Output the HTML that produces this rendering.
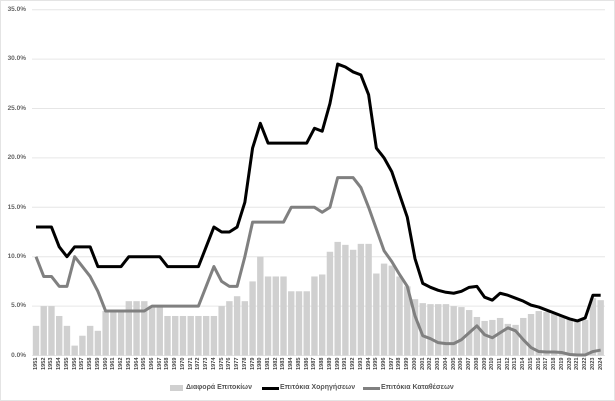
<!DOCTYPE html>
<html><head><meta charset="utf-8"><style>
html,body{margin:0;padding:0;background:#fff;}
#c{position:relative;width:615px;height:401px;overflow:hidden;background:#fff;font-family:"Liberation Sans",sans-serif;}
#frame{position:absolute;left:0;top:0;width:613px;height:399px;border:1px solid #e4e4e4;}
.yl{position:absolute;left:0;width:26px;text-align:right;font-size:6.5px;font-weight:bold;color:#666;}
#years{position:absolute;left:32.1px;top:358px;display:flex;}
#years span{width:7.735px;height:24px;display:flex;justify-content:center;}
#years span i{font-style:normal;writing-mode:vertical-rl;transform:rotate(180deg);font-size:5.6px;color:#444;font-weight:bold;text-align:right;}
.lg{position:absolute;top:384px;font-size:7px;color:#555;font-weight:bold;}
</style></head><body><div id="c">
<div id="frame"></div>
<svg id="s" width="615" height="401" style="position:absolute;left:0;top:0"></svg>
<div class="yl" style="top:6px">35.0%</div>
<div class="yl" style="top:55px">30.0%</div>
<div class="yl" style="top:105px">25.0%</div>
<div class="yl" style="top:154px">20.0%</div>
<div class="yl" style="top:204px">15.0%</div>
<div class="yl" style="top:253px">10.0%</div>
<div class="yl" style="top:302px">5.0%</div>
<div class="yl" style="top:352px">0.0%</div>
<div id="years"><span><i>1951</i></span><span><i>1952</i></span><span><i>1953</i></span><span><i>1954</i></span><span><i>1955</i></span><span><i>1956</i></span><span><i>1957</i></span><span><i>1958</i></span><span><i>1959</i></span><span><i>1960</i></span><span><i>1961</i></span><span><i>1962</i></span><span><i>1963</i></span><span><i>1964</i></span><span><i>1965</i></span><span><i>1966</i></span><span><i>1967</i></span><span><i>1968</i></span><span><i>1969</i></span><span><i>1970</i></span><span><i>1971</i></span><span><i>1972</i></span><span><i>1973</i></span><span><i>1974</i></span><span><i>1975</i></span><span><i>1976</i></span><span><i>1977</i></span><span><i>1978</i></span><span><i>1979</i></span><span><i>1980</i></span><span><i>1981</i></span><span><i>1982</i></span><span><i>1983</i></span><span><i>1984</i></span><span><i>1985</i></span><span><i>1986</i></span><span><i>1987</i></span><span><i>1988</i></span><span><i>1989</i></span><span><i>1990</i></span><span><i>1991</i></span><span><i>1992</i></span><span><i>1993</i></span><span><i>1994</i></span><span><i>1995</i></span><span><i>1996</i></span><span><i>1997</i></span><span><i>1998</i></span><span><i>1999</i></span><span><i>2000</i></span><span><i>2001</i></span><span><i>2002</i></span><span><i>2003</i></span><span><i>2004</i></span><span><i>2005</i></span><span><i>2006</i></span><span><i>2007</i></span><span><i>2008</i></span><span><i>2009</i></span><span><i>2010</i></span><span><i>2011</i></span><span><i>2012</i></span><span><i>2013</i></span><span><i>2014</i></span><span><i>2015</i></span><span><i>2016</i></span><span><i>2017</i></span><span><i>2018</i></span><span><i>2019</i></span><span><i>2020</i></span><span><i>2021</i></span><span><i>2022</i></span><span><i>2023</i></span><span><i>2024</i></span></div>
<div style="position:absolute;left:170px;top:385px;width:13px;height:6px;background:#d0d0d0"></div>
<div class="lg" style="left:186px">Διαφορά Επιτοκίων</div>
<div style="position:absolute;left:262px;top:387px;width:17px;height:3px;background:#000"></div>
<div class="lg" style="left:280px">Επιτόκια Χορηγήσεων</div>
<div style="position:absolute;left:363px;top:387px;width:17px;height:3px;background:#808080"></div>
<div class="lg" style="left:381px">Επιτόκια Καταθέσεων</div>
</div>
<script>
var bars=[3,5,5,4,3,1,2,3,2.5,4.5,4.5,4.5,5.5,5.5,5.5,5,5,4,4,4,4,4,4,4,5,5.5,6,5.5,7.5,10,8,8,8,6.5,6.5,6.5,8,8.2,10.5,11.5,11.2,10.7,11.3,11.3,8.3,9.3,9.1,8,7,5.7,5.3,5.2,5.2,5.2,5,4.9,4.6,3.9,3.5,3.6,3.8,3.2,3.1,3.8,4.2,4.5,4.4,4.2,4,3.8,3.6,3.6,5.8,5.6];
var lend=[13,13,13,11,10,11,11,11,9,9,9,9,10,10,10,10,10,9,9,9,9,9,11,13,12.5,12.5,13,15.5,21,23.5,21.5,21.5,21.5,21.5,21.5,21.5,23,22.7,25.5,29.5,29.2,28.7,28.4,26.4,21,20,18.6,16.3,14,9.8,7.3,6.9,6.6,6.4,6.3,6.5,6.9,7,5.9,5.6,6.3,6.1,5.8,5.5,5.1,4.9,4.6,4.3,4,3.7,3.5,3.8,6.1,6.1];
var dep=[10,8,8,7,7,10,9,8,6.5,4.5,4.5,4.5,4.5,4.5,4.5,5,5,5,5,5,5,5,7,9,7.5,7,7,10,13.5,13.5,13.5,13.5,13.5,15,15,15,15,14.5,15,18,18,18,17,15,12.8,10.6,9.5,8.2,7,4,2,1.7,1.3,1.2,1.2,1.6,2.3,3,2.1,1.8,2.3,2.8,2.5,1.6,0.8,0.4,0.35,0.35,0.3,0.1,0.05,0.05,0.4,0.55];
function X(i){return 36+7.735*i} function Y(v){return 355.5-9.88*v}
var h='';
for(var g=0;g<=7;g++){var y=Y(g*5);h+='<line x1="32" x2="605" y1="'+y+'" y2="'+y+'" stroke="#e6e6e6" stroke-width="1"/>';}
bars.forEach(function(v,i){h+='<rect x="'+(X(i)-3.2)+'" y="'+Y(v)+'" width="6.4" height="'+(9.88*v)+'" fill="#d0d0d0"/>';});
function pl(a,c){return '<polyline fill="none" stroke="'+c+'" stroke-width="3" stroke-linejoin="round" points="'+a.map(function(v,i){return X(i)+','+Y(v)}).join(' ')+'"/>';}
h+=pl(dep,'#808080')+pl(lend,'#000');
document.getElementById('s').innerHTML=h;
</script>
</body></html>
